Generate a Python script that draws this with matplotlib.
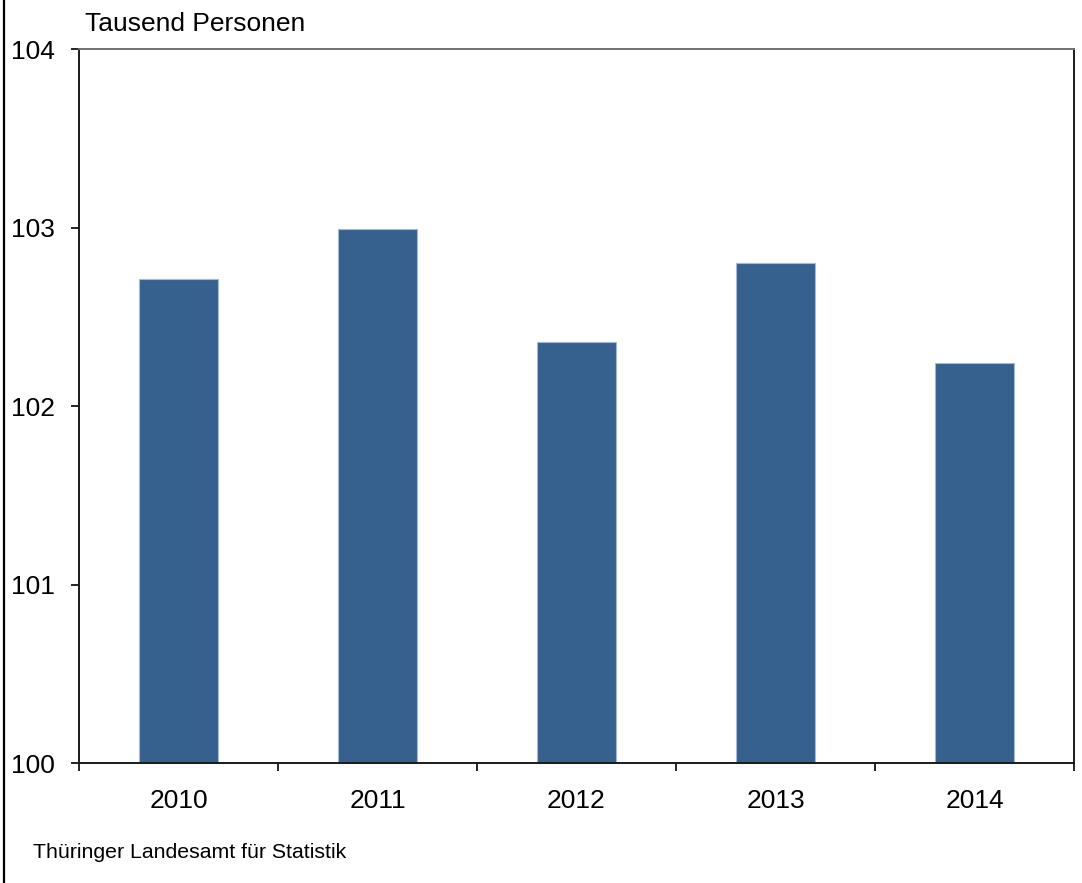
import matplotlib.pyplot as plt
from matplotlib.lines import Line2D

plt.rcParams["font.family"] = ["Liberation Sans", "DejaVu Sans"]

years = ["2010", "2011", "2012", "2013", "2014"]
persons = [102.71, 102.99, 102.36, 102.80, 102.24]
y_ticks = [100, 101, 102, 103, 104]

fig = plt.figure(figsize=(10.82, 8.83), dpi=100)
ax = fig.add_axes([0.0730, 0.1359, 0.9196, 0.8086])

x = range(len(years))
ax.bar(x, [p - 100 for p in persons], bottom=100, width=0.4,
       color="#36618f", edgecolor="#a4b8d8", linewidth=0.8, zorder=2)

ax.set_xlim(-0.5, len(years) - 0.5)
ax.set_ylim(100, 104)
ax.set_yticks(y_ticks)
ax.set_yticklabels([str(t) for t in y_ticks])
ax.set_xticks(list(x))
ax.set_xticklabels(years)
ax.set_xticks([i - 0.5 for i in range(len(years) + 1)], minor=True)

ax.tick_params(axis="x", which="major", length=0, pad=19, labelsize=19)
ax.tick_params(axis="x", which="minor", length=5.5, width=1.2, direction="out")
ax.tick_params(axis="y", length=5.5, width=1.2, pad=12, labelsize=19)

for side in ["left", "bottom", "right"]:
    ax.spines[side].set_color("#1a1a1a")
    ax.spines[side].set_linewidth(1.4)
ax.spines["top"].set_color("#707070")
ax.spines["top"].set_linewidth(1.4)

fig.text(0.0786, 0.973, "Tausend Personen", fontsize=19, va="center", ha="left")
fig.text(0.0305, 0.035, "Thüringer Landesamt für Statistik", fontsize=15.3,
         va="center", ha="left")
fig.add_artist(Line2D([0.004, 0.004], [0, 1], color="black", linewidth=1.6,
                      transform=fig.transFigure))

fig.savefig("out.png", dpi=100)
